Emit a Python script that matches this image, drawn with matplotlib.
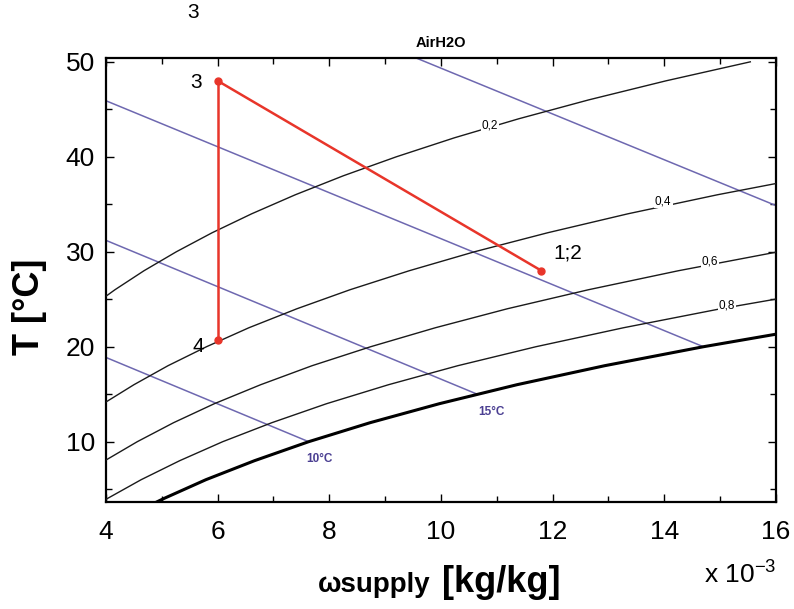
import matplotlib
matplotlib.use("Agg")
import matplotlib.pyplot as plt
from matplotlib.ticker import MultipleLocator

plt.rcParams['font.family'] = ['Liberation Sans', 'DejaVu Sans']
plt.rcParams['mathtext.fontset'] = 'custom'
plt.rcParams['mathtext.rm'] = 'Liberation Sans'
plt.rcParams['mathtext.bf'] = 'Liberation Sans:bold'

# ---- data (humidity ratio in 1e-3 kg/kg, temperature in °C) ----
# relative humidity curves
rh_100_T = [3.6, 4, 6, 8, 10, 12, 14, 16, 18, 20, 22]
rh_100_w = [4.89, 5.03, 5.79, 6.66, 7.63, 8.73, 9.97, 11.36, 12.93, 14.70, 16.67]

rh_080_T = [3.6, 4, 6, 8, 10, 12, 14, 16, 18, 20, 22, 24, 26]
rh_080_w = [3.90, 4.02, 4.63, 5.32, 6.09, 6.97, 7.95, 9.06, 10.30, 11.70, 13.27, 15.01, 16.96]

rh_060_T = [6, 8, 10, 12, 14, 16, 18, 20, 22, 24, 26, 28, 30]
rh_060_w = [3.46, 3.98, 4.56, 5.21, 5.94, 6.77, 7.69, 8.74, 9.90, 11.19, 12.64, 14.25, 16.04]

rh_040_T = [12, 14, 16, 18, 20, 22, 24, 26, 28, 30, 32, 34, 36, 38]
rh_040_w = [3.46, 3.95, 4.50, 5.11, 5.80, 6.56, 7.42, 8.37, 9.43, 10.60, 11.91, 13.35, 14.95, 16.72]

rh_020_T = [24, 26, 28, 30, 32, 34, 36, 38, 40, 42, 44, 46, 48, 50]
rh_020_w = [3.69, 4.16, 4.68, 5.26, 5.90, 6.61, 7.39, 8.25, 9.20, 10.24, 11.39, 12.65, 14.03, 15.54]

rh_labels = ['0,2', '0,4', '0,6', '0,8']
rh_label_w = [10.88, 13.98, 14.82, 15.12]
rh_label_T = [43.3, 35.3, 28.95, 24.3]

# wet-bulb lines (endpoints)
wb_names = ['10°C', '15°C', '20°C', '25°C']
wb_w = [[4.0, 7.63], [4.0, 10.65], [4.0, 14.70], [4.0, 20.09]]
wb_T = [[18.87, 10.0], [31.2, 15.0], [45.9, 20.0], [63.8, 25.0]]
wb_label_w = [7.83, 10.9]
wb_label_T = [8.15, 13.15]

# process states
state_names = ['3', '4', '1;2']
state_w = [6.0, 6.0, 11.8]
state_T = [48.0, 20.7, 28.0]

xticks = [4, 6, 8, 10, 12, 14, 16]
yticks = [10, 20, 30, 40, 50]

# ---- figure ----
fig = plt.figure(figsize=(7.94, 6.09), dpi=100)
ax = fig.add_axes([0.1335, 0.1757, 0.8438, 0.729])

blue = '#6e68b0'
for ws, ts in zip(wb_w, wb_T):
    ax.plot(ws, ts, color=blue, lw=1.1, zorder=2)

for ws, ts in [(rh_080_w, rh_080_T), (rh_060_w, rh_060_T),
               (rh_040_w, rh_040_T), (rh_020_w, rh_020_T)]:
    ax.plot(ws, ts, color='#1a1a1a', lw=1.0, zorder=3)
ax.plot(rh_100_w, rh_100_T, color='black', lw=2.2, zorder=3)

for lab, w, t in zip(rh_labels, rh_label_w, rh_label_T):
    ax.text(w, t, lab, fontsize=8.5, ha='center', va='center', zorder=4,
            bbox=dict(facecolor='white', edgecolor='none', pad=0.8))

for lab, w, t in zip(wb_names[:2], wb_label_w, wb_label_T):
    ax.text(w, t, lab, fontsize=8.5, color='#4b3f92', ha='center', va='center',
            fontweight='bold')

red = '#e8352a'
ax.plot([state_w[0], state_w[1]], [state_T[0], state_T[1]], color=red, lw=1.8, zorder=5)
ax.plot([state_w[0], state_w[2]], [state_T[0], state_T[2]], color=red, lw=1.8, zorder=5)
ax.plot(state_w, state_T, 'o', color=red, ms=5, zorder=6)

ax.text(state_w[0] - 0.38, state_T[0] - 0.2, state_names[0], fontsize=15,
        ha='center', va='center')
ax.text(state_w[1] - 0.35, state_T[1] - 0.7, state_names[1], fontsize=15,
        ha='center', va='center')
ax.text(state_w[2] + 0.47, state_T[2] + 1.9, state_names[2], fontsize=15,
        ha='center', va='center')

ax.set_xlim(4, 16)
ax.set_ylim(3.65, 50.4)
ax.set_xticks(xticks)
ax.set_yticks(yticks)
ax.xaxis.set_minor_locator(MultipleLocator(1))
ax.yaxis.set_minor_locator(MultipleLocator(5))
ax.tick_params(which='both', direction='in', top=True, right=True,
               labelsize=19, width=1.0)
ax.tick_params(which='major', length=6)
ax.tick_params(which='minor', length=4)
ax.tick_params(axis='x', which='major', pad=13)
ax.tick_params(axis='y', which='major', pad=8)
for sp in ax.spines.values():
    sp.set_linewidth(1.6)

ax.set_title('AirH2O', fontsize=10.5, fontweight='bold', pad=8)
ax.set_ylabel('T [°C]', fontsize=26, fontweight='bold')
ax.yaxis.set_label_coords(-0.088, 0.44)

fig.text(0.400, 0.028, 'ωsupply', fontsize=20, fontweight='bold', ha='left', va='baseline')
fig.text(0.557, 0.028, '[kg/kg]', fontsize=26, fontweight='bold', ha='left', va='baseline')
fig.text(0.932, 0.044, r'x 10$^{-3}$', fontsize=19, ha='center', va='baseline')

fig.text(0.243, 0.979, '3', fontsize=15, ha='center', va='center')

fig.savefig('out.png', dpi=100)
